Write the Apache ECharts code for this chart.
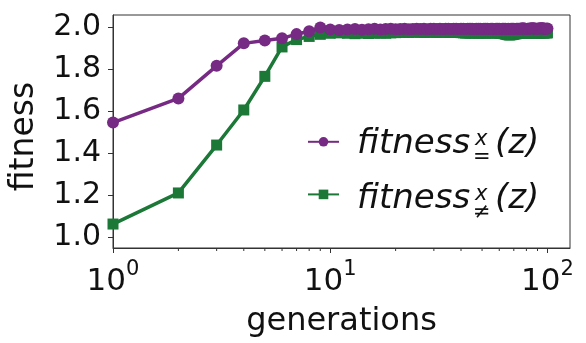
<!DOCTYPE html>
<html>
<head>
<meta charset="utf-8">
<script src="https://cdn.jsdelivr.net/npm/echarts@6/dist/echarts.min.js"></script>
<style>html,body{margin:0;padding:0;background:#fff}#c{width:586px;height:343px}</style>
</head>
<body>
<div id="c"></div>
<script>
const generations = [];
for (let g = 1; g <= 100; g++) generations.push(g);

const fitnessEq = [
  1.545, 1.660, 1.815, 1.922, 1.936, 1.946, 1.966, 1.980, 1.997, 1.988,
  1.986, 1.988, 1.990, 1.987, 1.989, 1.991, 1.988, 1.990, 1.992, 1.989,
  1.990, 1.991, 1.989, 1.990, 1.992, 1.990, 1.991, 1.989, 1.991, 1.992,
  1.990, 1.991, 1.990, 1.992, 1.991, 1.990, 1.992, 1.991, 1.990, 1.991,
  1.992, 1.990, 1.991, 1.992, 1.991, 1.990, 1.991, 1.992, 1.991, 1.990,
  1.991, 1.992, 1.991, 1.990, 1.992, 1.991, 1.990, 1.991, 1.992, 1.991,
  1.990, 1.991, 1.992, 1.991, 1.990, 1.991, 1.990, 1.991, 1.992, 1.991,
  1.990, 1.991, 1.992, 1.991, 1.992, 1.993, 1.994, 1.993, 1.991, 1.990,
  1.991, 1.992, 1.993, 1.993, 1.994, 1.994, 1.993, 1.992, 1.991, 1.992,
  1.993, 1.993, 1.994, 1.994, 1.994, 1.993, 1.992, 1.991, 1.992, 1.993
];

const fitnessNeq = [
  1.062, 1.210, 1.438, 1.605, 1.765, 1.905, 1.940, 1.955, 1.965, 1.970,
  1.972, 1.970, 1.968, 1.970, 1.969, 1.970, 1.971, 1.970, 1.972, 1.973,
  1.974, 1.975, 1.974, 1.975, 1.976, 1.975, 1.974, 1.975, 1.976, 1.975,
  1.974, 1.975, 1.976, 1.975, 1.974, 1.975, 1.976, 1.975, 1.974, 1.973,
  1.972, 1.971, 1.972, 1.971, 1.972, 1.971, 1.972, 1.971, 1.972, 1.971,
  1.972, 1.971, 1.972, 1.973, 1.972, 1.971, 1.972, 1.973, 1.972, 1.971,
  1.970, 1.969, 1.968, 1.966, 1.964, 1.963, 1.962, 1.963, 1.964, 1.965,
  1.967, 1.968, 1.970, 1.971, 1.972, 1.971, 1.972, 1.973, 1.972, 1.971,
  1.972, 1.973, 1.972, 1.971, 1.972, 1.973, 1.972, 1.971, 1.972, 1.973,
  1.972, 1.971, 1.972, 1.973, 1.972, 1.971, 1.972, 1.973, 1.972, 1.972
];

const yTicks = [1.0, 1.2, 1.4, 1.6, 1.8, 2.0];
const xMajorTicks = [1, 10, 100];
const xMinorTicks = [2, 3, 4, 5, 6, 7, 8, 9, 20, 30, 40, 50, 60, 70, 80, 90];
const seriesNames = ['fitness_eq', 'fitness_neq'];

const PURPLE = '#762a83';
const GREEN = '#1b7837';
const AX = '#333333';
const FONT = 'DejaVu Sans';
const Y_MIN = 0.948, Y_MAX = 2.057;

const chart = echarts.init(document.getElementById('c'), null, {renderer: 'canvas'});

function txt(text, left, top, size, italic) {
  return {type: 'text', left: left, top: top, z: 10,
    style: {text: text, fontFamily: FONT, fontSize: size, fontStyle: italic ? 'italic' : 'normal', fill: '#111'}};
}

chart.setOption({
  animation: false,
  backgroundColor: '#fff',
  grid: {left: 107, right: 16, top: 15, bottom: 95, show: true, borderColor: AX, borderWidth: 1, backgroundColor: 'transparent'},
  xAxis: {
    type: 'log', logBase: 10, min: 1, max: 127,
    name: 'generations', nameLocation: 'middle', nameGap: 58,
    nameTextStyle: {fontFamily: FONT, fontSize: 32, color: '#111'},
    axisLine: {show: true, lineStyle: {color: AX, width: 1}},
    axisTick: {show: true, length: 5, lineStyle: {color: AX}, customValues: xMajorTicks},
    axisLabel: {
      customValues: xMajorTicks, margin: 11,
      formatter: v => '{b|10}{s|' + Math.round(Math.log10(v)) + '}',
      rich: {
        b: {fontFamily: FONT, fontSize: 31, color: '#111', lineHeight: 38, verticalAlign: 'bottom'},
        s: {fontFamily: FONT, fontSize: 21, color: '#111', lineHeight: 21, verticalAlign: 'top'}
      }
    },
    splitLine: {show: false}, minorTick: {show: false}
  },
  yAxis: {
    type: 'value', min: Y_MIN, max: Y_MAX,
    name: 'fitness', nameLocation: 'middle', nameGap: 72, nameRotate: 90,
    nameTextStyle: {fontFamily: FONT, fontSize: 33, color: '#111', padding: [0, 10, 0, 0]},
    axisLine: {show: true, lineStyle: {color: AX, width: 1}},
    axisTick: {show: true, length: 5, lineStyle: {color: AX}, customValues: yTicks},
    axisLabel: {customValues: yTicks, margin: 12, fontFamily: FONT, fontSize: 30, color: '#111', formatter: v => v.toFixed(1)},
    splitLine: {show: false}
  },
  legend: {
    left: 302, top: 132, orient: 'vertical', itemWidth: 31, itemHeight: 12, itemGap: 43,
    data: seriesNames, formatter: () => '', textStyle: {fontSize: 1, lineHeight: 1}
  },
  series: [{
    name: seriesNames[0], type: 'line',
    data: generations.map((g, i) => [g, fitnessEq[i]]),
    symbol: 'circle', symbolSize: 12, showAllSymbol: true, z: 3,
    itemStyle: {color: PURPLE}, lineStyle: {color: PURPLE, width: 3.5}
  }, {
    name: seriesNames[1], type: 'line',
    data: generations.map((g, i) => [g, fitnessNeq[i]]),
    symbol: 'rect', symbolSize: 11, showAllSymbol: true, z: 2,
    itemStyle: {color: GREEN}, lineStyle: {color: GREEN, width: 3.5}
  }, {
    name: 'minorTicks', type: 'custom', clip: false, silent: true, z: 1,
    data: xMinorTicks.map(v => [v, Y_MIN]),
    renderItem: function (params, api) {
      const p = api.coord([api.value(0), api.value(1)]);
      return {type: 'line', shape: {x1: p[0], y1: p[1], x2: p[0], y2: p[1] + 3},
        style: {stroke: AX, lineWidth: 1}};
    }
  }],
  graphic: [
    txt('fitness', 357, 127, 34, true),
    txt('x', 475, 129, 21, true),
    txt('=', 473, 147, 21, false),
    txt('(z)', 495, 127, 34, true),
    txt('fitness', 357, 182, 34, true),
    txt('x', 475, 184, 21, true),
    txt('≠', 473, 202, 21, false),
    txt('(z)', 495, 182, 34, true)
  ]
});
</script>
</body>
</html>
